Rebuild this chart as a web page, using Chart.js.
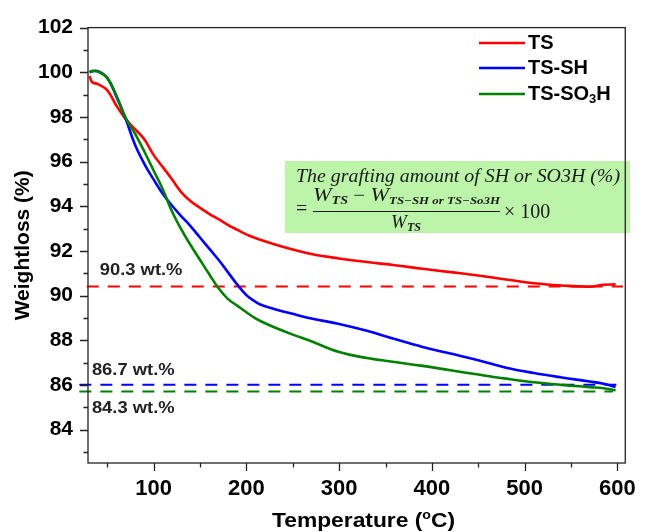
<!DOCTYPE html>
<html><head><meta charset="utf-8">
<script src="https://cdn.jsdelivr.net/npm/chart.js@4/dist/chart.umd.min.js"></script>
<style>html,body{margin:0;padding:0;background:#fff;}canvas{display:block;}</style>
</head><body>
<canvas id="c" width="649" height="532"></canvas>
<script>
// ---- data ----
const temperature = [31,34,40,50,60,70,80,90,100,110,120,130,140,150,160,170,180,190,200,207,215,230,250,270,300,330,360,390,420,450,480,510,540,570,585,598];
const weightTS = [99.83,99.55,99.47,99.2,98.5,97.9,97.45,97.0,96.3,95.75,95.2,94.62,94.22,93.93,93.66,93.42,93.17,92.95,92.74,92.62,92.5,92.3,92.06,91.86,91.66,91.5,91.36,91.2,91.05,90.9,90.72,90.55,90.45,90.4,90.48,90.5];
const weightTSSH = [100.0,100.05,100.05,99.75,98.9,97.9,96.75,95.9,95.2,94.55,94.02,93.55,93.1,92.6,92.1,91.6,91.05,90.5,90.02,89.8,89.6,89.4,89.18,88.97,88.73,88.42,88.05,87.7,87.4,87.1,86.77,86.53,86.33,86.15,86.05,85.9];
const weightTSSO3H = [100.0,100.05,100.03,99.75,98.95,97.95,97.25,96.45,95.6,94.75,93.75,92.95,92.25,91.6,90.95,90.33,89.85,89.55,89.25,89.05,88.86,88.58,88.25,87.95,87.47,87.2,87.02,86.85,86.65,86.46,86.28,86.12,86.0,85.9,85.85,85.76];
const seriesNames = ['TS','TS-SH','TS-SO3H'];
const seriesColors = ['#ff0000','#0000ff','#008000'];
const xTickValues = [100,200,300,400,500,600];
const xMinorValues = [50,150,250,350,450,550];
const yTickValues = [84,86,88,90,92,94,96,98,100,102];
const yMinorValues = [83,85,87,89,91,93,95,97,99,101];
const refLevels = [90.4, 86.0, 85.7];
const refFrom = [28, 20, 20];
const refTo = [606, 600, 595];
const refLabels = ['90.3 wt.%','86.7 wt.%','84.3 wt.%'];
const refLabelX = [42, 33.5, 33.5];
const refLabelY = [90.9, 86.45, 84.72];
const xTitle = 'Temperature (';
const yTitle = 'Weightloss (%)';
const formulaLine1 = 'The grafting amount of SH or SO3H (%)';

const SANS = "'Liberation Sans', Arial, sans-serif";
const SERIF = "'Liberation Serif', 'DejaVu Serif', serif";

function pts(vals){ return temperature.map((t,i)=>({x:t,y:vals[i]})); }
const curves = [weightTS, weightTSSH, weightTSSO3H].map((v,i)=>({
  label: seriesNames[i], data: pts(v), borderColor: seriesColors[i], backgroundColor: seriesColors[i],
  borderWidth: 2.6, showLine: true, pointRadius: 0, tension: 0.4, order: 3-i
}));
const refs = refLevels.map((lv,i)=>({
  label: 'ref'+i, data: [{x:refFrom[i],y:lv},{x:refTo[i],y:lv}], borderColor: seriesColors[i],
  borderWidth: 2, borderDash: [12,9], showLine: true, pointRadius: 0, clip: false, order: 5
}));

function drawRuns(ctx, x, y, parts){
  for (const p of parts){ ctx.font = p[1]; ctx.fillText(p[0], x, y + (p[2]||0)); x += ctx.measureText(p[0]).width; }
  return x;
}
function runsWidth(ctx, parts){
  let w = 0; for (const p of parts){ ctx.font = p[1]; w += ctx.measureText(p[0]).width; } return w;
}
function fitRuns(ctx, x0, x1, y, parts){
  const w = runsWidth(ctx, parts); const sx = (x1-x0)/w;
  ctx.save(); ctx.translate(x0, y); ctx.scale(sx, 1); drawRuns(ctx, 0, 0, parts); ctx.restore();
}

const overlay = {
  id: 'overlay',
  afterDatasetsDraw(chart){
    const ctx = chart.ctx;
    ctx.save();
    ctx.fillStyle = '#bcf5aa';
    ctx.fillRect(285, 161, 345, 72);
    ctx.fillStyle = '#1a1a1a';
    ctx.textBaseline = 'alphabetic'; ctx.textAlign = 'left';
    fitRuns(ctx, 296, 620, 182, [[formulaLine1, 'italic 19px '+SERIF]]);
    ctx.font = '20px '+SERIF; ctx.fillText('=', 296, 215);
    const wI = 'italic 19px '+SERIF, sI = 'italic bold 12px '+SERIF, sI2 = 'italic bold 11px '+SERIF;
    fitRuns(ctx, 313, 500, 201, [['W', wI], ['TS', sI, 3], [' − ', '18px '+SERIF], ['W', wI], ['TS−SH or TS−So3H', sI2, 3]]);
    ctx.strokeStyle = '#1a1a1a'; ctx.lineWidth = 1;
    ctx.beginPath(); ctx.moveTo(313, 211.5); ctx.lineTo(500, 211.5); ctx.stroke();
    const den = [['W', wI], ['TS', sI, 3]];
    const dw = runsWidth(ctx, den);
    drawRuns(ctx, 406 - dw/2, 228, den);
    ctx.font = '20px '+SERIF; ctx.fillText('× 100', 504, 218);
    ctx.restore();
  },
  afterDraw(chart){
    const ctx = chart.ctx, a = chart.chartArea, xs = chart.scales.x, ys = chart.scales.y;
    ctx.save();
    ctx.strokeStyle = '#222'; ctx.lineWidth = 1.3;
    ctx.strokeRect(a.left, a.top, a.right - a.left, a.bottom - a.top);
    ctx.beginPath();
    xTickValues.forEach(v=>{ const p = Math.round(xs.getPixelForValue(v))+0.5; ctx.moveTo(p, a.bottom); ctx.lineTo(p, a.bottom+8); });
    xMinorValues.forEach(v=>{ const p = Math.round(xs.getPixelForValue(v))+0.5; ctx.moveTo(p, a.bottom); ctx.lineTo(p, a.bottom+4.5); });
    yTickValues.forEach(v=>{ const p = Math.round(ys.getPixelForValue(v))+0.5; ctx.moveTo(a.left, p); ctx.lineTo(a.left-8, p); });
    yMinorValues.forEach(v=>{ const p = Math.round(ys.getPixelForValue(v))+0.5; ctx.moveTo(a.left, p); ctx.lineTo(a.left-4.5, p); });
    ctx.stroke();
    // legend
    const ly = [43, 68, 94];
    seriesNames.forEach((n,i)=>{
      ctx.strokeStyle = seriesColors[i]; ctx.lineWidth = 2.5;
      ctx.beginPath(); ctx.moveTo(479, ly[i]); ctx.lineTo(525, ly[i]); ctx.stroke();
      ctx.fillStyle = '#000'; ctx.textBaseline = 'middle'; ctx.textAlign = 'left';
      const f = 'bold 20px '+SANS;
      if (n === 'TS-SO3H') drawRuns(ctx, 528, ly[i], [['TS-SO', f], ['3', 'bold 13px '+SANS, 5], ['H', f]]);
      else drawRuns(ctx, 528, ly[i], [[n, f]]);
    });
    // reference labels
    ctx.fillStyle = '#222'; ctx.textBaseline = 'alphabetic'; ctx.textAlign = 'left';
    refLabels.forEach((t,i)=>{
      ctx.save();
      ctx.translate(xs.getPixelForValue(refLabelX[i]), ys.getPixelForValue(refLabelY[i]));
      ctx.scale(1.08, 1);
      ctx.font = 'bold 17px '+SANS; ctx.fillText(t, 0, 0);
      ctx.restore();
    });
    // axis titles
    ctx.fillStyle = '#000';
    ctx.save(); ctx.translate(23, (a.top + a.bottom)/2); ctx.rotate(-Math.PI/2);
    ctx.textAlign = 'center'; ctx.textBaseline = 'middle'; ctx.font = 'bold 21px '+SANS;
    ctx.fillText(yTitle, 0, 0); ctx.restore();
    ctx.textBaseline = 'alphabetic'; ctx.textAlign = 'left';
    fitRuns(ctx, 272, 455, 527, [[xTitle, 'bold 21px '+SANS], ['o', 'bold 13px '+SANS, -8], ['C)', 'bold 21px '+SANS]]);
    ctx.restore();
  }
};

new Chart(document.getElementById('c'), {
  type: 'scatter',
  data: { datasets: [...curves, ...refs] },
  options: {
    responsive: false, animation: false, devicePixelRatio: 1,
    layout: { padding: { top: 23, right: 12, left: 0, bottom: 0 } },
    plugins: { legend: { display: false }, tooltip: { enabled: false } },
    scales: {
      x: {
        type: 'linear', min: 29.3, max: 608.4,
        afterBuildTicks: s => { s.ticks = xTickValues.map(v => ({ value: v })); },
        afterFit: s => { s.height = 69; },
        grid: { display: false, drawTicks: false }, border: { display: false },
        ticks: { color: '#000', padding: 13, maxRotation: 0, autoSkip: false, font: { family: SANS, size: 22, weight: 'bold' } }
      },
      y: {
        type: 'linear', min: 82.5, max: 102,
        afterBuildTicks: s => { s.ticks = yTickValues.map(v => ({ value: v })); },
        afterFit: s => { s.width = 88; },
        grid: { display: false, drawTicks: false }, border: { display: false },
        ticks: { color: '#000', padding: 15, autoSkip: false, font: { family: SANS, size: 21, weight: 'bold' } }
      }
    }
  },
  plugins: [overlay]
});
</script>
</body></html>
